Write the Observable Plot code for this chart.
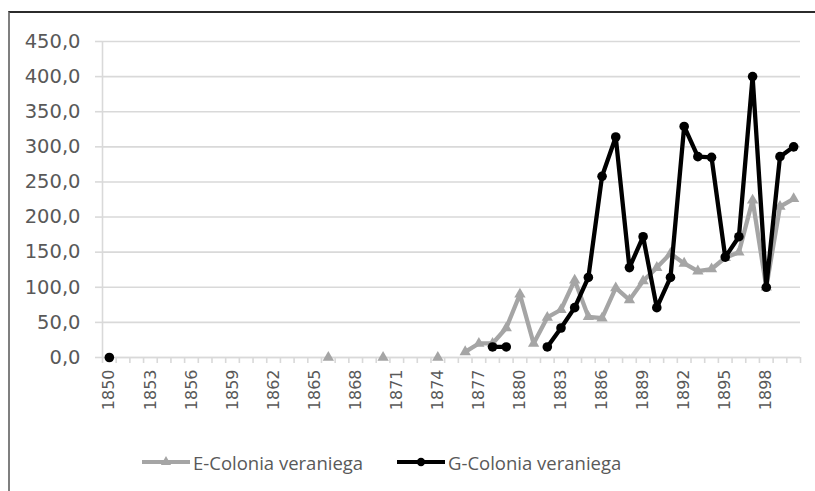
<!DOCTYPE html>
<html>
<head>
<meta charset="utf-8">
<script src="https://cdn.jsdelivr.net/npm/d3@7"></script>
<script src="https://cdn.jsdelivr.net/npm/@observablehq/plot@0.6"></script>
<style>
  html, body { margin: 0; padding: 0; background: #fff; }
  body { width: 815px; height: 491px; position: relative; overflow: hidden; font-family: "Open Sans", sans-serif; }
  #frame { position: absolute; left: 8px; top: 11px; width: 820px; height: 500px;
           border-top: 2px solid #2b2b2b; border-left: 2px solid #7f7f7f; box-sizing: border-box; }
  #chart { position: absolute; left: 0; top: 0; }
  #chart svg text { font-family: "DejaVu Sans", sans-serif !important; }
  #chart svg g[aria-label="y-axis tick label"], #chart svg g[aria-label="y-axis tick label"] text { font-size: 19.5px !important; }
  #chart svg g[aria-label="x-axis tick label"], #chart svg g[aria-label="x-axis tick label"] text { font-size: 16px !important; }
  .leg { position: absolute; top: 448px; height: 28px; display: flex; align-items: center;
         font-size: 18.5px; color: #595959; white-space: nowrap; }
  .leg svg { margin-right: 2px; }
</style>
</head>
<body>
<div id="frame"></div>
<div id="chart"></div>
<div class="leg" id="legE" style="left:141px"></div>
<div class="leg" id="legG" style="left:396px"></div>
<script>
// Categories (years) and tick labels
const years = [1850,1851,1852,1853,1854,1855,1856,1857,1858,1859,
               1860,1861,1862,1863,1864,1865,1866,1867,1868,1869,
               1870,1871,1872,1873,1874,1875,1876,1877,1878,1879,
               1880,1881,1882,1883,1884,1885,1886,1887,1888,1889,
               1890,1891,1892,1893,1894,1895,1896,1897,1898,1899,1900];
const labelYears = [1850,1853,1856,1859,1862,1865,1868,1871,1874,1877,1880,1883,1886,1889,1892,1895,1898];
const yTicks = [0,50,100,150,200,250,300,350,400,450];

// Series values (null = no data)
const eName = "E-Colonia veraniega";
const eValues = [null,null,null,null,null,null,null,null,null,null,
                 null,null,null,null,null,null,0,null,null,null,
                 0,null,null,null,0,null,8,20,20,42,
                 90,20,57,68,110,58,56,99,82,109,
                 128,148,134,123,126,142,150,224,100,215,226];
const gName = "G-Colonia veraniega";
const gValues = [0,null,null,null,null,null,null,null,null,null,
                 null,null,null,null,null,null,null,null,null,null,
                 null,null,null,null,null,null,null,null,15,15,
                 null,null,15,42,71,114,258,314,128,172,
                 71,114,329,286,285,143,172,400,100,286,300];

const eColor = "#a5a5a5", gColor = "#000000";
const data = years.map((y, i) => ({year: y, e: eValues[i], g: gValues[i]}));
const boundaries = years.map(y => y - 0.5).concat([years[years.length - 1] + 0.5]);
const fmt = d => d.toFixed(1).replace(".", ",");

const plot = Plot.plot({
  width: 815,
  height: 432,
  marginLeft: 102,
  marginRight: 15,
  marginTop: 41,
  marginBottom: 75,
  x: {domain: [years[0] - 0.5, years[years.length - 1] + 0.5]},
  y: {domain: [0, 450]},
  style: {fontFamily: "'DejaVu Sans', sans-serif", background: "transparent", overflow: "visible"},
  marks: [
    Plot.gridY(yTicks, {stroke: "#d9d9d9", strokeOpacity: 1, strokeWidth: 1.6}),
    Plot.axisY({ticks: yTicks, tickFormat: fmt, tickSize: 7, tickPadding: 15, fontSize: 19.5,
                stroke: "#d9d9d9", strokeWidth: 1.6, strokeOpacity: 1, fill: "#595959", label: null}),
    Plot.ruleX([years[0] - 0.5], {stroke: "#d9d9d9", strokeWidth: 1.6}),
    Plot.ruleY([0], {stroke: "#d9d9d9", strokeWidth: 1.6}),
    Plot.axisX({ticks: boundaries, tickSize: 6, tickFormat: () => "", stroke: "#d9d9d9",
                strokeWidth: 1.6, strokeOpacity: 1, label: null}),
    Plot.axisX({ticks: labelYears, tickSize: 0, tickPadding: 12, tickRotate: -90, fontSize: 16,
                fill: "#595959", tickFormat: d => String(d), label: null}),
    Plot.line(data, {x: "year", y: "e", stroke: eColor, strokeWidth: 4.3, strokeLinejoin: "round"}),
    Plot.dot(data, {x: "year", y: "e", symbol: "triangle", fill: eColor, r: 4.2}),
    Plot.line(data, {x: "year", y: "g", stroke: gColor, strokeWidth: 4.3, strokeLinejoin: "round"}),
    Plot.dot(data, {x: "year", y: "g", symbol: "circle", fill: gColor, r: 4.8})
  ]
});
document.getElementById("chart").appendChild(plot);

// Legend
function legendItem(el, color, symbol, name) {
  const ns = "http://www.w3.org/2000/svg";
  const s = document.createElementNS(ns, "svg");
  s.setAttribute("width", 50); s.setAttribute("height", 14);
  const l = document.createElementNS(ns, "line");
  l.setAttribute("x1", 1); l.setAttribute("x2", 49); l.setAttribute("y1", 7); l.setAttribute("y2", 7);
  l.setAttribute("stroke", color); l.setAttribute("stroke-width", 4);
  s.appendChild(l);
  const p = document.createElementNS(ns, "path");
  p.setAttribute("d", d3.symbol(symbol === "triangle" ? d3.symbolTriangle : d3.symbolCircle,
                                symbol === "triangle" ? 45 : 55)());
  p.setAttribute("transform", "translate(25,7)");
  p.setAttribute("fill", color);
  s.appendChild(p);
  el.appendChild(s);
  const t = document.createElement("span");
  t.textContent = name;
  el.appendChild(t);
}
legendItem(document.getElementById("legE"), eColor, "triangle", eName);
legendItem(document.getElementById("legG"), gColor, "circle", gName);
</script>
</body>
</html>
